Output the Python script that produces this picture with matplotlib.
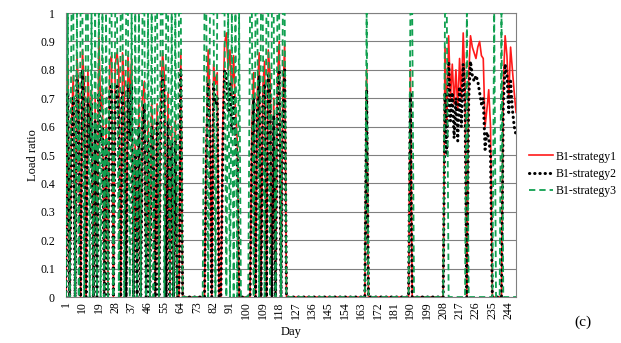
import matplotlib
matplotlib.use("Agg")
import matplotlib.pyplot as plt
import numpy as np

plt.rcParams['font.family'] = ['Liberation Serif', 'DejaVu Serif']

# daily load ratios, days 1..248
days = list(range(1, 249))

strategy1 = [
    0, 0.83, 0, 0.62, 0.78, 0, 0.85, 0.70, 0, 0.87,        # 1-10
    0.75, 0, 0.80, 0.60, 0.73, 0, 0.70, 0, 0.92, 0.66,     # 11-20
    0.72, 0, 0.62, 0, 0.83, 0.85, 0, 0.82, 0.86, 0.80,     # 21-30
    0, 0.86, 0.75, 0, 0.85, 0.70, 0.84, 0, 0.55, 0,        # 31-40
    0.68, 0, 0.70, 0.76, 0, 0.62, 0, 0.68, 0.55, 0,        # 41-50
    0.68, 0, 0.70, 0.86, 0.78, 0, 0.72, 0, 0.60, 0,        # 51-60
    0.62, 0, 0, 0.86, 0, 0, 0, 0, 0, 0,                    # 61-70
    0, 0, 0, 0, 0, 0, 0, 0.55, 0.87, 0.70,                 # 71-80
    0, 0.82, 0.75, 0.79, 0, 0, 0.60, 0.89, 0.93, 0.80,     # 81-90
    0.87, 0.70, 0.85, 0.66, 0.55, 0, 0, 0, 0, 0,           # 91-100
    0, 0, 0.60, 0.79, 0, 0.72, 0.86, 0, 0.74, 0.83,        # 101-110
    0, 0.87, 0.78, 0, 0.70, 0, 0.75, 0.90, 0, 0.70,        # 111-120
    0.89, 0, 0, 0, 0, 0, 0, 0, 0, 0,                       # 121-130
    0, 0, 0, 0, 0, 0, 0, 0, 0, 0,                          # 131-140
    0, 0, 0, 0, 0, 0, 0, 0, 0, 0,                          # 141-150
    0, 0, 0, 0, 0, 0, 0, 0, 0, 0,                          # 151-160
    0, 0, 0, 0, 0, 0.80, 0, 0, 0, 0,                       # 161-170
    0, 0, 0, 0, 0, 0, 0, 0, 0, 0,                          # 171-180
    0, 0, 0, 0, 0, 0, 0, 0, 0, 0.80,                       # 181-190
    0, 0, 0, 0, 0, 0, 0, 0, 0, 0,                          # 191-200
    0, 0, 0, 0, 0, 0, 0, 0, 0.88, 0.60,                    # 201-210
    0.92, 0.70, 0.82, 0.68, 0.80, 0.66, 0.84, 0.70, 0.93, 0.75,  # 211-220
    0, 0.78, 0.92, 0.88, 0.86, 0.84, 0.88, 0.90, 0.85, 0.84,     # 221-230
    0.60, 0.66, 0.73, 0.60, 0, 0, 0, 0, 0, 0,                    # 231-240
    0.75, 0.92, 0.85, 0.70, 0.88, 0.80, 0.72, 0.65,              # 241-248
]

strategy2 = [
    0, 0.72, 0, 0.55, 0.70, 0, 0.78, 0.62, 0, 0.80,
    0.65, 0, 0.70, 0.50, 0.68, 0, 0.62, 0, 0.72, 0.55,
    0.60, 0, 0.55, 0, 0.72, 0.75, 0, 0.68, 0.75, 0.62,
    0, 0.72, 0.60, 0, 0.75, 0.55, 0.75, 0, 0.50, 0,
    0.60, 0, 0.60, 0.68, 0, 0.55, 0, 0.60, 0.50, 0,
    0.62, 0, 0.62, 0.78, 0.70, 0, 0.62, 0, 0.55, 0,
    0.55, 0, 0, 0.80, 0, 0, 0, 0, 0, 0,
    0, 0, 0, 0, 0, 0, 0, 0.48, 0.75, 0.60,
    0, 0.75, 0.68, 0.70, 0, 0, 0.50, 0.80, 0.78, 0.65,
    0.75, 0.58, 0.72, 0.54, 0.50, 0, 0, 0, 0, 0,
    0, 0, 0.50, 0.70, 0, 0.65, 0.78, 0, 0.68, 0.75,
    0, 0.78, 0.70, 0, 0.64, 0, 0.70, 0.80, 0, 0.62,
    0.80, 0, 0, 0, 0, 0, 0, 0, 0, 0,
    0, 0, 0, 0, 0, 0, 0, 0, 0, 0,
    0, 0, 0, 0, 0, 0, 0, 0, 0, 0,
    0, 0, 0, 0, 0, 0, 0, 0, 0, 0,
    0, 0, 0, 0, 0, 0.73, 0, 0, 0, 0,
    0, 0, 0, 0, 0, 0, 0, 0, 0, 0,
    0, 0, 0, 0, 0, 0, 0, 0, 0, 0.72,
    0, 0, 0, 0, 0, 0, 0, 0, 0, 0,
    0, 0, 0, 0, 0, 0, 0, 0, 0.72, 0.50,
    0.83, 0.62, 0.72, 0.56, 0.70, 0.55, 0.74, 0.60, 0.82, 0.68,
    0, 0.70, 0.83, 0.78, 0.76, 0.78, 0.76, 0.72, 0.68, 0.70,
    0.52, 0.58, 0.56, 0.50, 0, 0, 0, 0, 0, 0,
    0.68, 0.82, 0.78, 0.65, 0.76, 0.66, 0.60, 0.57,
]

strategy3 = [
    0, 1, 0, 1, 1, 0, 1, 0, 1, 1,
    0, 1, 1, 0, 1, 0, 1, 0, 1, 0,
    1, 0, 1, 0, 1, 1, 0, 1, 1, 0,
    1, 1, 0, 1, 1, 0, 1, 0, 1, 0,
    1, 0, 1, 1, 0, 1, 0, 1, 0, 1,
    1, 0, 1, 1, 0, 1, 1, 0, 1, 0,
    1, 0, 1, 1, 0, 0, 0, 0, 0, 0,
    0, 0, 0, 0, 0, 0, 1, 1, 0, 1,
    1, 1, 0, 1, 1, 1, 1, 1, 0, 1,
    0, 1, 0, 1, 0, 1, 0, 0, 0, 0,
    0, 1, 1, 0, 1, 1, 0, 1, 1, 0,
    1, 1, 0, 1, 1, 0, 1, 1, 0, 1,
    1, 0, 0, 0, 0, 0, 0, 0, 0, 0,
    0, 0, 0, 0, 0, 0, 0, 0, 0, 0,
    0, 0, 0, 0, 0, 0, 0, 0, 0, 0,
    0, 0, 0, 0, 0, 0, 0, 0, 0, 0,
    0, 0, 0, 0, 0, 1, 0, 0, 0, 0,
    0, 0, 0, 0, 0, 0, 0, 0, 0, 0,
    0, 0, 0, 0, 0, 0, 0, 0, 0, 1,
    1, 0, 0, 0, 0, 0, 0, 0, 0, 0,
    0, 0, 0, 0, 0, 0, 0, 0, 1, 1,
    0, 0, 0, 0, 0, 0, 0, 0, 0, 0,
    1, 0, 0, 0, 0, 0, 0, 0, 0, 0,
    0, 0, 0, 0, 0, 1, 0, 0, 0, 1,
    0, 0, 0, 0, 0, 0, 0, 0,
]

labels = ['B1-strategy1', 'B1-strategy2', 'B1-strategy3']
xticks = list(range(1, 249, 9))
yticks = [0, 0.1, 0.2, 0.3, 0.4, 0.5, 0.6, 0.7, 0.8, 0.9, 1.0]

fig = plt.figure(figsize=(6.21, 3.43), dpi=100)
ax = fig.add_axes([0.1063, 0.134, 0.7247, 0.828])

ax.plot(days, strategy1, color='#ff1a1a', lw=1.2, label=labels[0], zorder=3)
ax.plot(days, strategy2, color='black', lw=2.2, linestyle=(0, (0.1, 1.6)),
        dash_capstyle='round', label=labels[1], zorder=4)
ax.plot(days, strategy3, color='#10a050', lw=1.3, linestyle=(0, (3.5, 2.2)),
        label=labels[2], zorder=5)

ax.set_xlim(1, 248)
ax.set_ylim(0, 1)
ax.set_xticks(xticks)
ax.set_xticklabels([str(t) for t in xticks], rotation=90, fontsize=8.5)
ax.set_yticks(yticks)
ax.set_yticklabels([f'{v:g}' for v in yticks], fontsize=8.5)
ax.tick_params(axis='x', length=0, pad=3)
ax.tick_params(axis='y', length=0, pad=8)
ax.grid(axis='y', color='#808080', lw=0.8)
ax.set_axisbelow(True)
for s in ax.spines.values():
    s.set_color('#808080')
    s.set_linewidth(0.8)

ax.set_xlabel('Day', fontsize=9, labelpad=5)
ax.set_ylabel('Load ratio', fontsize=9, labelpad=1)

fig.legend(loc='center left', bbox_to_anchor=(0.835, 0.493), frameon=False,
           fontsize=8.5, handlelength=2.0, handletextpad=0.2, labelspacing=0.45)
fig.text(0.938, 0.06, '(c)', fontsize=11, ha='center', va='center')

fig.savefig('out.png', dpi=100)
